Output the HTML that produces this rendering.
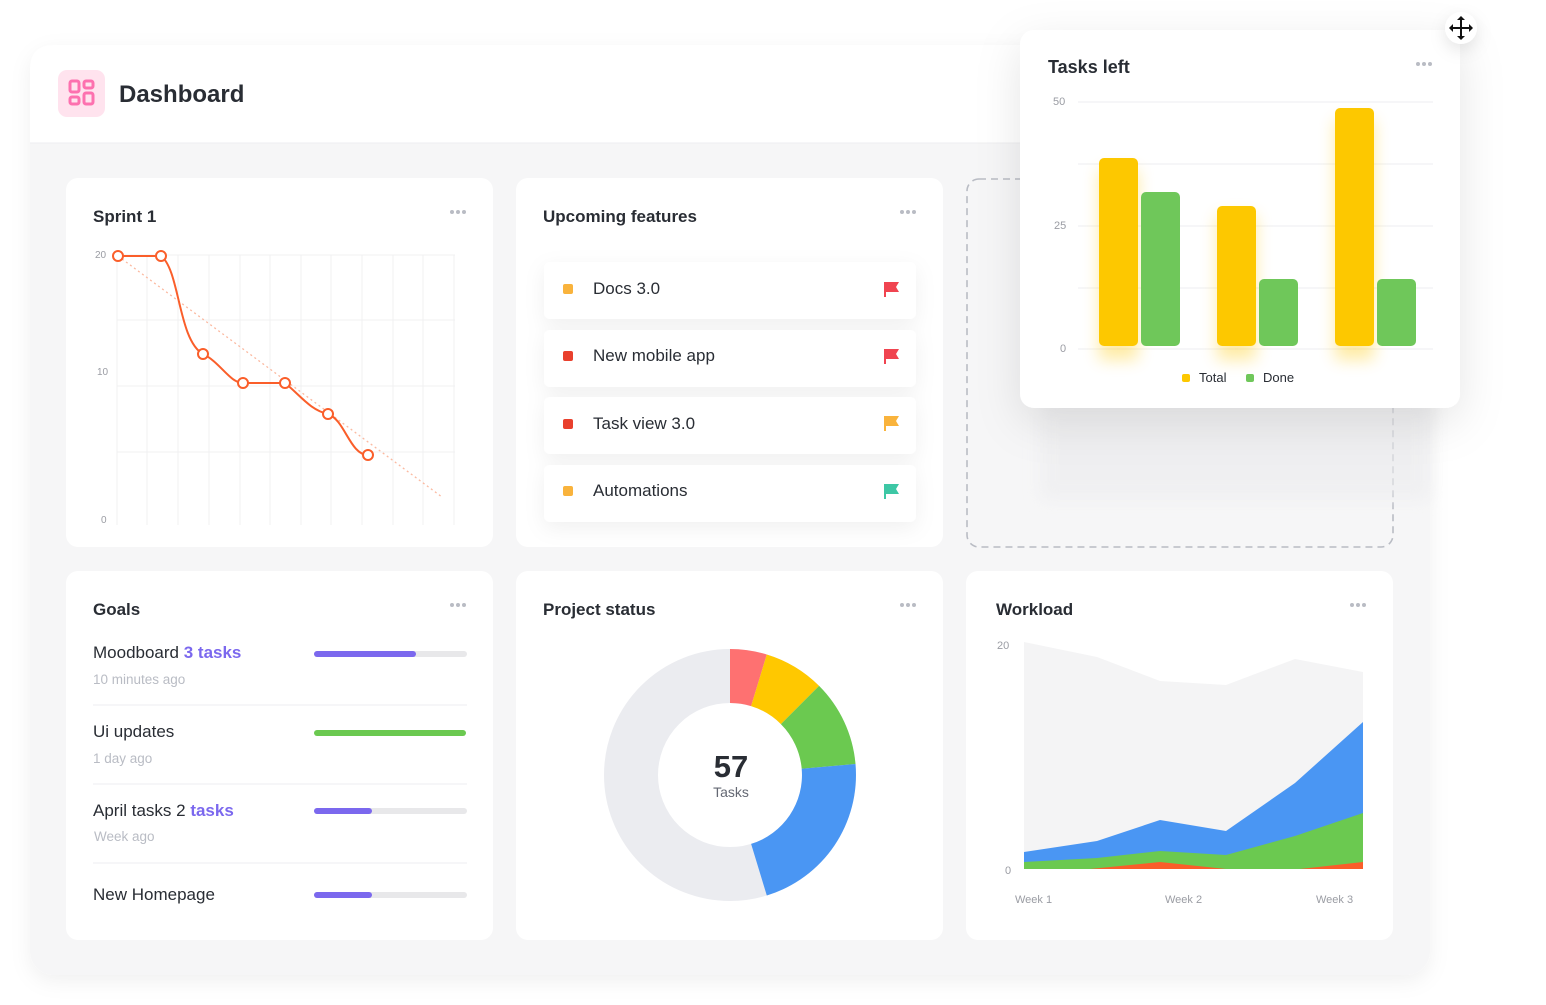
<!DOCTYPE html>
<html><head><meta charset="utf-8"><style>
html,body{margin:0;padding:0;background:#fff;width:1546px;height:1005px;overflow:hidden}
svg{display:block;font-family:"Liberation Sans",sans-serif}
</style></head><body>
<svg width="1546" height="1005" viewBox="0 0 1546 1005" xmlns="http://www.w3.org/2000/svg">
<defs>
<filter id="sh" x="-10%" y="-10%" width="120%" height="130%"><feDropShadow dx="0" dy="6" stdDeviation="10" flood-color="#000" flood-opacity="0.06"/></filter>
<filter id="sh2" x="-20%" y="-20%" width="140%" height="150%"><feDropShadow dx="0" dy="14" stdDeviation="22" flood-color="#000" flood-opacity="0.10"/></filter>
<filter id="sh3" x="-150%" y="-150%" width="400%" height="400%"><feDropShadow dx="0" dy="6" stdDeviation="8" flood-color="#000" flood-opacity="0.10"/></filter>
<filter id="bl" x="-50%" y="-50%" width="200%" height="200%"><feGaussianBlur stdDeviation="8"/></filter>
</defs>
<!-- outer panel -->
<rect x="30" y="45" width="1400" height="930" rx="24" fill="#f6f6f7" filter="url(#sh)"/>
<path d="M54 45 H1406 Q1430 45 1430 69 V143 H30 V69 Q30 45 54 45Z" fill="#fff"/>
<line x1="30" y1="143" x2="1430" y2="143" stroke="#eeeef0"/>
<rect x="58" y="70" width="47" height="47" rx="9" fill="#ffe3ee"/>
<g fill="none" stroke="#fd71af" stroke-width="3">
<rect x="70" y="81" width="9" height="11" rx="2"/><rect x="84" y="81" width="9" height="7" rx="2"/>
<rect x="70" y="97" width="9" height="7" rx="2"/><rect x="84" y="93" width="9" height="11" rx="2"/></g>
<text x="119" y="102" font-size="24" fill="#292d34" font-weight="bold">Dashboard</text>

<!-- cards -->
<g fill="#fff">
<rect x="66" y="178" width="427" height="369" rx="12"/>
<rect x="516" y="178" width="427" height="369" rx="12"/>
<rect x="66" y="571" width="427" height="369" rx="12"/>
<rect x="516" y="571" width="427" height="369" rx="12"/>
<rect x="966" y="571" width="427" height="369" rx="12"/>
</g>
<rect x="967" y="179" width="426" height="368" rx="12" fill="none" stroke="#b9bcc4" stroke-width="1.6" stroke-dasharray="7 5"/>
<rect x="1040" y="400" width="390" height="100" fill="#ececee" opacity="0.6" filter="url(#bl)"/>

<g font-size="17" fill="#292d34" font-weight="bold">
<text x="93" y="222">Sprint 1</text>
<text x="543" y="222">Upcoming features</text>
<text x="93" y="615">Goals</text>
<text x="543" y="615">Project status</text>
<text x="996" y="615">Workload</text>
</g>
<g fill="#b9bcc4">
<circle cx="452" cy="212" r="2"/><circle cx="458" cy="212" r="2"/><circle cx="464" cy="212" r="2"/>
<circle cx="902" cy="212" r="2"/><circle cx="908" cy="212" r="2"/><circle cx="914" cy="212" r="2"/>
<circle cx="452" cy="605" r="2"/><circle cx="458" cy="605" r="2"/><circle cx="464" cy="605" r="2"/>
<circle cx="902" cy="605" r="2"/><circle cx="908" cy="605" r="2"/><circle cx="914" cy="605" r="2"/>
<circle cx="1352" cy="605" r="2"/><circle cx="1358" cy="605" r="2"/><circle cx="1364" cy="605" r="2"/>
</g>

<!-- sprint chart -->
<g stroke="#f0f0f2" stroke-width="1">
<line x1="117" y1="255" x2="455" y2="255"/><line x1="117" y1="320" x2="455" y2="320"/>
<line x1="117" y1="386" x2="455" y2="386"/><line x1="117" y1="452" x2="455" y2="452"/>
<line x1="117" y1="255" x2="117" y2="525"/><line x1="147" y1="255" x2="147" y2="525"/>
<line x1="178" y1="255" x2="178" y2="525"/><line x1="209" y1="255" x2="209" y2="525"/>
<line x1="240" y1="255" x2="240" y2="525"/><line x1="270" y1="255" x2="270" y2="525"/>
<line x1="301" y1="255" x2="301" y2="525"/><line x1="331" y1="255" x2="331" y2="525"/>
<line x1="362" y1="255" x2="362" y2="525"/><line x1="393" y1="255" x2="393" y2="525"/>
<line x1="423" y1="255" x2="423" y2="525"/><line x1="454" y1="255" x2="454" y2="525"/>
</g>
<g font-size="10" fill="#9a9ca3"><text x="95" y="258">20</text><text x="97" y="375">10</text><text x="101" y="523">0</text></g>
<line x1="118" y1="256" x2="442" y2="497" stroke="#fbb9a0" stroke-width="1.3" stroke-dasharray="2 3"/>
<path d="M118 256 L161 256 C180 270 178 340 203 354 C220 362 230 383 243 383 L285 383 C300 395 310 410 328 414 C345 420 350 455 368 455" fill="none" stroke="#fa5e2a" stroke-width="2"/>
<g fill="#fff" stroke="#fa5e2a" stroke-width="2">
<circle cx="118" cy="256" r="5"/><circle cx="161" cy="256" r="5"/><circle cx="203" cy="354" r="5"/>
<circle cx="243" cy="383" r="5"/><circle cx="285" cy="383" r="5"/><circle cx="328" cy="414" r="5"/><circle cx="368" cy="455" r="5"/></g>

<!-- upcoming -->
<g filter="url(#sh)" fill="#fff">
<rect x="544" y="262" width="372" height="57" rx="6"/><rect x="544" y="330" width="372" height="57" rx="6"/>
<rect x="544" y="397" width="372" height="57" rx="6"/><rect x="544" y="465" width="372" height="57" rx="6"/></g>
<rect x="563" y="284" width="10" height="10" rx="2" fill="#f9b33c"/>
<rect x="563" y="351" width="10" height="10" rx="2" fill="#e9402d"/>
<rect x="563" y="419" width="10" height="10" rx="2" fill="#e9402d"/>
<rect x="563" y="486" width="10" height="10" rx="2" fill="#f9b33c"/>
<g font-size="17" fill="#292d34">
<text x="593" y="294">Docs 3.0</text><text x="593" y="361">New mobile app</text>
<text x="593" y="429">Task view 3.0</text><text x="593" y="496">Automations</text></g>
<path d="M884 282 h15 l-3 5 l3 5 h-13 v5 h-2z" fill="#f04450"/>
<path d="M884 349 h15 l-3 5 l3 5 h-13 v5 h-2z" fill="#f04450"/>
<path d="M884 416 h15 l-3 5 l3 5 h-13 v5 h-2z" fill="#f9b33c"/>
<path d="M884 484 h15 l-3 5 l3 5 h-13 v5 h-2z" fill="#3dc7a5"/>

<!-- goals -->
<g font-size="17" fill="#292d34">
<text x="93" y="658">Moodboard <tspan fill="#7b68ee" font-weight="bold">3 tasks</tspan></text>
<text x="93" y="737">Ui updates</text>
<text x="93" y="816">April tasks 2 <tspan fill="#7b68ee" font-weight="bold">tasks</tspan></text>
<text x="93" y="900">New Homepage</text></g>
<g font-size="13.5" fill="#b9bcc4"><text x="93" y="684">10 minutes ago</text><text x="93" y="763">1 day ago</text><text x="94" y="841">Week ago</text></g>
<g stroke="#eeeef0"><line x1="93" y1="705" x2="467" y2="705"/><line x1="93" y1="784" x2="467" y2="784"/><line x1="93" y1="863" x2="467" y2="863"/></g>
<g stroke-linecap="round" stroke-width="6">
<line x1="317" y1="654" x2="464" y2="654" stroke="#e8e8ea"/><line x1="317" y1="654" x2="413" y2="654" stroke="#7b68ee"/>
<line x1="317" y1="733" x2="463" y2="733" stroke="#6bc950"/>
<line x1="317" y1="811" x2="464" y2="811" stroke="#e8e8ea"/><line x1="317" y1="811" x2="369" y2="811" stroke="#7b68ee"/>
<line x1="317" y1="895" x2="464" y2="895" stroke="#e8e8ea"/><line x1="317" y1="895" x2="369" y2="895" stroke="#7b68ee"/>
</g>

<!-- donut -->
<circle cx="730" cy="775" r="99" fill="none" stroke="#ebecf0" stroke-width="54"/>
<g fill-rule="evenodd">
<path d="M730 649 A126 126 0 0 1 766.8 654.5 L751.1 706.1 A72 72 0 0 0 730 703 Z" fill="#fe7171"/>
<path d="M766.8 654.5 A126 126 0 0 1 819.1 685.9 L780.9 724.1 A72 72 0 0 0 751.1 706.1 Z" fill="#ffc800"/>
<path d="M819.1 685.9 A126 126 0 0 1 855.5 764 L801.7 768.7 A72 72 0 0 0 780.9 724.1 Z" fill="#6bc950"/>
<path d="M855.5 764 A126 126 0 0 1 766.8 895.5 L751.1 843.9 A72 72 0 0 0 801.7 768.7 Z" fill="#4a96f3"/>
</g>
<text x="731" y="777" font-size="31" font-weight="bold" fill="#292d34" text-anchor="middle">57</text>
<text x="731" y="797" font-size="14" fill="#646873" text-anchor="middle">Tasks</text>

<!-- workload -->
<polygon points="1024,642 1097,657 1160,681 1226,685 1295,659 1363,672 1363,869 1024,869" fill="#f4f4f5"/>
<polygon points="1024,852 1097,841 1160,820 1226,831 1295,783 1363,722 1363,869 1024,869" fill="#4a96f3"/>
<polygon points="1024,862 1097,858 1160,851 1226,855 1295,836 1363,813 1363,869 1024,869" fill="#6bc950"/>
<polygon points="1090,869 1160,862 1226,869 1300,869 1363,862 1363,869" fill="#fa5e2a"/>
<g font-size="11" fill="#9a9ca3"><text x="997" y="649">20</text><text x="1005" y="874">0</text>
<text x="1015" y="903">Week 1</text><text x="1165" y="903">Week 2</text><text x="1316" y="903">Week 3</text></g>

<!-- tasks left floating card -->
<rect x="1020" y="30" width="440" height="378" rx="14" fill="#fff" filter="url(#sh2)"/>
<text x="1048" y="73" font-size="18" fill="#292d34" font-weight="bold">Tasks left</text>
<g fill="#b9bcc4"><circle cx="1418" cy="64" r="2"/><circle cx="1424" cy="64" r="2"/><circle cx="1430" cy="64" r="2"/></g>
<g stroke="#eeeef0"><line x1="1078" y1="102" x2="1433" y2="102"/><line x1="1078" y1="164" x2="1433" y2="164"/>
<line x1="1078" y1="226" x2="1433" y2="226"/><line x1="1078" y1="288" x2="1433" y2="288"/><line x1="1078" y1="349" x2="1433" y2="349"/></g>
<g font-size="11" fill="#9a9ca3"><text x="1053" y="105">50</text><text x="1054" y="229">25</text><text x="1060" y="352">0</text></g>
<g opacity="0.35" filter="url(#bl)"><rect x="1099" y="170" width="39" height="190" fill="#ffc800"/><rect x="1217" y="215" width="39" height="145" fill="#ffc800"/><rect x="1335" y="120" width="39" height="240" fill="#ffc800"/></g>
<rect x="1099" y="158" width="39" height="188" rx="5" fill="#fdc800"/>
<rect x="1141" y="192" width="39" height="154" rx="5" fill="#6fc75a"/>
<rect x="1217" y="206" width="39" height="140" rx="5" fill="#fdc800"/>
<rect x="1259" y="279" width="39" height="67" rx="5" fill="#6fc75a"/>
<rect x="1335" y="108" width="39" height="238" rx="5" fill="#fdc800"/>
<rect x="1377" y="279" width="39" height="67" rx="5" fill="#6fc75a"/>
<rect x="1182" y="374" width="8" height="8" rx="2" fill="#fdc800"/><text x="1199" y="382" font-size="13" fill="#292d34">Total</text>
<rect x="1246" y="374" width="8" height="8" rx="2" fill="#6fc75a"/><text x="1263" y="382" font-size="13" fill="#292d34">Done</text>

<!-- move icon -->
<circle cx="1461" cy="28" r="16" fill="#fff" filter="url(#sh3)"/>
<g stroke="#111" stroke-width="2" fill="#111">
<line x1="1461" y1="18" x2="1461" y2="38"/><line x1="1451" y1="28" x2="1471" y2="28"/></g>
<g fill="#111"><path d="M1461 16 l-4 4 h8z"/><path d="M1461 40 l-4 -4 h8z"/><path d="M1449 28 l4 -4 v8z"/><path d="M1473 28 l-4 -4 v8z"/></g>
</svg>
</body></html>
